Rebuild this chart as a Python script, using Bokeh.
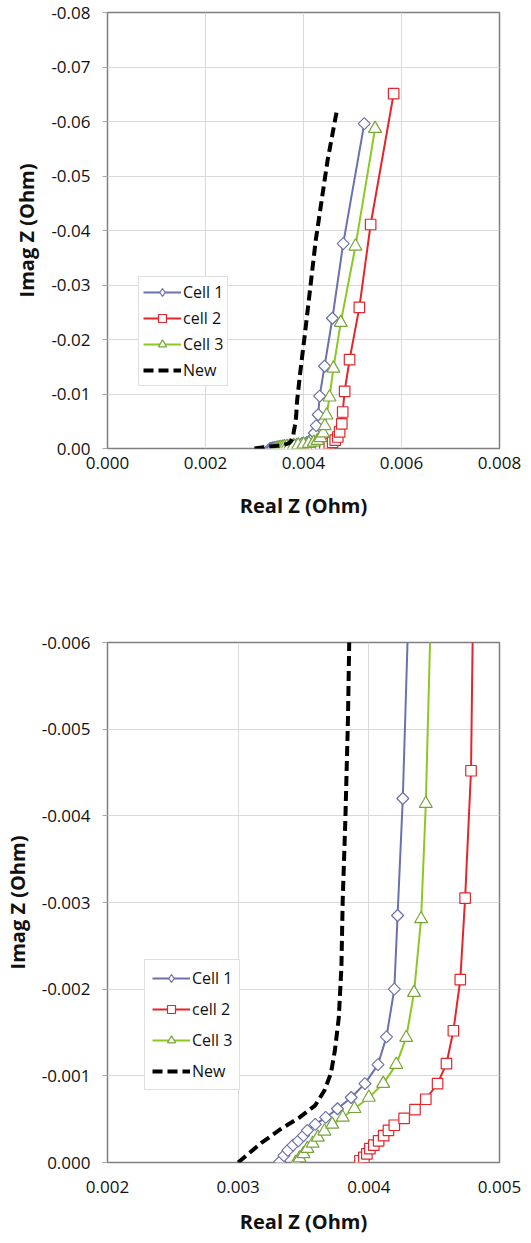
import numpy as np
from bokeh.plotting import figure
from bokeh.layouts import column
from bokeh.models import (Range1d, FixedTicker, NumeralTickFormatter, Legend, LegendItem)
from bokeh.embed import file_html
from bokeh.resources import INLINE

# ---- data (Real Z, Imag Z in Ohm) ----
cell1_re = [0.00332, 0.00335, 0.00338, 0.00342, 0.00346, 0.00350, 0.00353, 0.00359,
            0.00367, 0.00376, 0.003865, 0.00397, 0.00407, 0.004135, 0.004195, 0.00422,
            0.00426, 0.00430, 0.00433, 0.00443, 0.00459, 0.00481, 0.00524]
cell1_im = [-0.00001, -0.00008, -0.00014, -0.00020, -0.00025, -0.00031, -0.00037, -0.00044,
            -0.00052, -0.00062, -0.00075, -0.00091, -0.00113, -0.00145, -0.00200, -0.00285,
            -0.00420, -0.00620, -0.00960, -0.01510, -0.02390, -0.03760, -0.05960]

cell2_re = [0.003932, 0.003962, 0.003985, 0.004008, 0.004038, 0.004075, 0.004113, 0.004150,
            0.004195, 0.004270, 0.004353, 0.004436, 0.004526, 0.004594, 0.004647, 0.004700,
            0.004737, 0.004782, 0.00480, 0.00484, 0.00494, 0.00514, 0.00537, 0.00584]
cell2_im = [-0.00002, -0.00006, -0.00010, -0.00016, -0.00020, -0.00025, -0.00031, -0.00037,
            -0.00043, -0.00051, -0.00061, -0.00073, -0.00091, -0.00114, -0.00152, -0.00211,
            -0.00305, -0.00452, -0.00670, -0.01050, -0.01630, -0.02590, -0.04110, -0.06510]

cell3_re = [0.00344, 0.00347, 0.00350, 0.00353, 0.00357, 0.00361, 0.00366, 0.00372,
            0.00380, 0.00389, 0.00400, 0.00411, 0.00421, 0.004286, 0.004346, 0.00440,
            0.004436, 0.00447, 0.00453, 0.00461, 0.00476, 0.00506, 0.00546]
cell3_im = [0.0, -0.00005, -0.00010, -0.00016, -0.00022, -0.00029, -0.00036, -0.00044,
            -0.00052, -0.00062, -0.00075, -0.00091, -0.00113, -0.00144, -0.00196, -0.00281,
            -0.00414, -0.00610, -0.00940, -0.01470, -0.02310, -0.03710, -0.05870]

new_re = [0.00300, 0.00318, 0.00333, 0.00347, 0.00359, 0.00366, 0.00371, 0.00374,
          0.00377, 0.00379, 0.00380, 0.00382, 0.00384, 0.00385, 0.00387, 0.00393,
          0.00403, 0.00425, 0.00449, 0.00468]
new_im = [0.0, -0.00023, -0.00039, -0.00052, -0.00066, -0.00083, -0.00103, -0.00129,
          -0.00167, -0.00225, -0.00302, -0.00394, -0.00510, -0.00600, -0.00880, -0.01370,
          -0.02110, -0.03820, -0.05280, -0.06200]

labels = ["Cell 1", "cell 2", "Cell 3", "New"]

# top chart ticks
top_xticks = [0.0, 0.002, 0.004, 0.006, 0.008]
top_yticks = [0.0, -0.01, -0.02, -0.03, -0.04, -0.05, -0.06, -0.07, -0.08]
# bottom chart ticks
bot_xticks = [0.002, 0.003, 0.004, 0.005]
bot_yticks = [0.0, -0.001, -0.002, -0.003, -0.004, -0.005, -0.006]

C1 = "#6c70ae"
C2 = "#e5252a"
C3 = "#8cc822"
C3M = "#78a43a"
FONT = "Open Sans"


def make_fig(height, xr, yr, xt, yt, xfmt, yfmt, borders, xstand, xlstand, leg_loc, leg_pad,
             leg_h, leg_sp, dash):
    left, right, top, bottom = borders
    p = figure(width=531, height=height, output_backend="svg", toolbar_location=None,
               x_range=Range1d(*xr), y_range=Range1d(*yr),
               min_border_left=left, min_border_right=right,
               min_border_top=top, min_border_bottom=bottom)
    p.background_fill_color = "white"
    p.border_fill_color = "white"
    p.outline_line_color = "#7f7f7f"
    p.outline_line_width = 1.5

    p.xaxis.ticker = FixedTicker(ticks=xt)
    p.yaxis.ticker = FixedTicker(ticks=yt)
    p.xaxis.formatter = NumeralTickFormatter(format=xfmt)
    p.yaxis.formatter = NumeralTickFormatter(format=yfmt)
    p.xgrid.ticker = FixedTicker(ticks=xt)
    p.ygrid.ticker = FixedTicker(ticks=yt)
    p.grid.grid_line_color = "#d9d9d9"
    p.grid.grid_line_width = 1

    for ax in (p.xaxis, p.yaxis):
        ax.axis_line_color = None
        ax.major_tick_line_color = "#a6a6a6"
        ax.minor_tick_line_color = None
        ax.major_tick_in = 0
        ax.major_label_text_font = FONT
        ax.major_label_text_font_size = "17px"
        ax.major_label_text_color = "#111111"
        ax.axis_label_text_font = FONT
        ax.axis_label_text_font_size = "20px"
        ax.axis_label_text_font_style = "bold"
        ax.axis_label_text_color = "#111111"
    p.xaxis.major_tick_out = 0
    p.yaxis.major_tick_out = 5
    p.yaxis.major_label_standoff = 12
    p.xaxis.major_label_standoff = xstand
    p.xaxis.axis_label = "Real Z (Ohm)"
    p.yaxis.axis_label = "Imag Z (Ohm)"
    p.xaxis.axis_label_standoff = xlstand
    p.yaxis.axis_label_standoff = 8

    r1l = p.line(cell1_re, cell1_im, line_color=C1, line_width=2)
    r1m = p.scatter(cell1_re, cell1_im, marker="square", angle=np.pi / 4, size=8.5,
                    line_color=C1, fill_color="white", line_width=1.2)
    # legend-only marker (diamond) – drawn at no visible point
    r1k = p.scatter([np.nan], [np.nan], marker="diamond", size=13,
                    line_color=C1, fill_color="white", line_width=1.2)
    r2l = p.line(cell2_re, cell2_im, line_color=C2, line_width=2)
    r2m = p.scatter(cell2_re, cell2_im, marker="square", size=10.5,
                    line_color=C2, fill_color="white", line_width=1.2)
    r3l = p.line(cell3_re, cell3_im, line_color=C3, line_width=2)
    r3m = p.scatter(cell3_re, cell3_im, marker="triangle", size=13,
                    line_color=C3M, fill_color="white", line_width=1.2)
    r4l = p.line(new_re, new_im, line_color="black", line_width=4, line_dash=dash)

    items = [LegendItem(label=labels[0], renderers=[r1l, r1k]),
             LegendItem(label=labels[1], renderers=[r2l, r2m]),
             LegendItem(label=labels[2], renderers=[r3l, r3m]),
             LegendItem(label=labels[3], renderers=[r4l])]
    leg = Legend(items=items, location=leg_loc, padding=leg_pad, spacing=leg_sp,
                 glyph_width=38, glyph_height=leg_h, label_height=leg_h,
                 label_standoff=2, margin=0,
                 label_text_font=FONT, label_text_font_size="16px",
                 label_text_color="#111111",
                 border_line_color="#bfbfbf", border_line_width=1,
                 background_fill_color="white", background_fill_alpha=1.0)
    p.add_layout(leg)
    return p


p1 = make_fig(620, (0.0, 0.008), (0.0, -0.08), top_xticks, top_yticks, "0.000", "0.00",
              (102, 32, 12, 172), 8, 20, (31, 62), 4, 20, 4, "10 5")
p2 = make_fig(623, (0.002, 0.005), (0.0, -0.006), bot_xticks, bot_yticks, "0.000", "0.000",
              (107, 26, 22, 81), 18, 12, (37, 72), 7, 20, 9, "10 5")

layout = column(p1, p2, spacing=0)
open("out.html", "w").write(file_html(layout, INLINE))
